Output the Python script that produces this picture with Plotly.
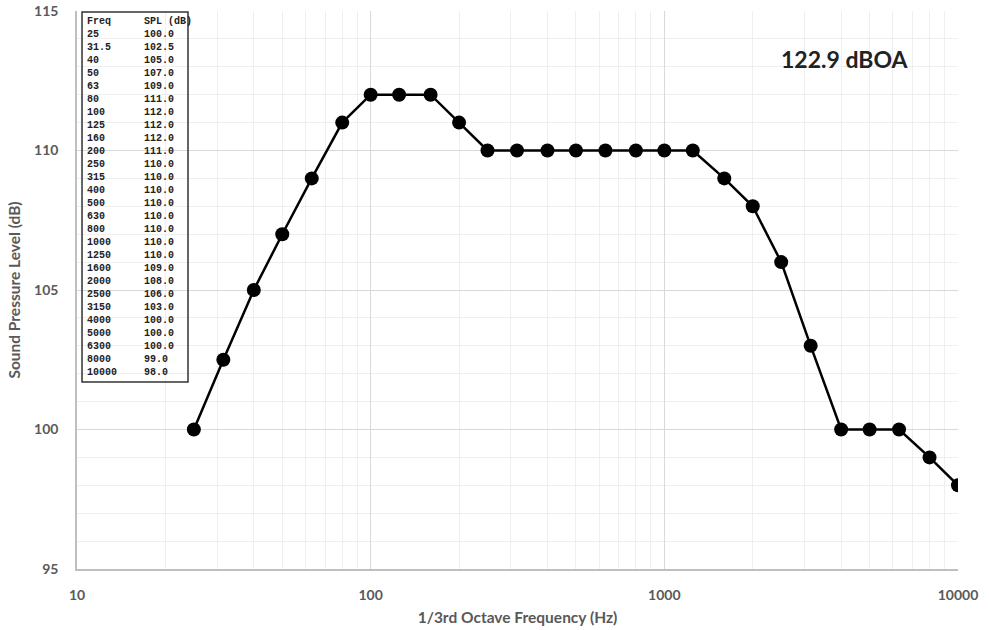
import plotly.graph_objects as go

freq = [25, 31.5, 40, 50, 63, 80, 100, 125, 160, 200, 250, 315, 400, 500, 630, 800,
        1000, 1250, 1600, 2000, 2500, 3150, 4000, 5000, 6300, 8000, 10000]
spl = [100.0, 102.5, 105.0, 107.0, 109.0, 111.0, 112.0, 112.0, 112.0, 111.0, 110.0, 110.0,
       110.0, 110.0, 110.0, 110.0, 110.0, 110.0, 109.0, 108.0, 106.0, 103.0, 100.0, 100.0,
       100.0, 99.0, 98.0]
x_ticks = [10, 100, 1000, 10000]
y_ticks = [95, 100, 105, 110, 115]
overall_label = "122.9 dBOA"

fig = go.Figure()
fig.add_trace(go.Scatter(
    x=freq, y=spl, mode="lines+markers",
    line=dict(color="black", width=2.5),
    marker=dict(color="black", size=14),
    showlegend=False, hoverinfo="x+y",
))

tick_font = dict(family="Lato, Open Sans, sans-serif", size=14, color="#595959", weight="bold")
title_font = dict(family="Lato, Open Sans, sans-serif", size=15.5, color="#595959", weight="bold")

fig.update_xaxes(
    type="log", range=[1, 4], automargin=False,
    tickvals=x_ticks, ticktext=[str(v) for v in x_ticks],
    showgrid=True, gridcolor="#d9d9d9", gridwidth=1,
    minor=dict(showgrid=True, gridcolor="#efefef", gridwidth=1,
               tickvals=[m * d for d in (10, 100, 1000) for m in range(2, 10)]),
    showline=True, linecolor="#bfbfbf", linewidth=1.5,
    ticks="", tickfont=tick_font, ticklabelstandoff=12, ticklabeloverflow="allow",
    title=dict(text="1/3rd Octave Frequency (Hz)", font=title_font, standoff=11),
    zeroline=False,
)
fig.update_yaxes(
    range=[95, 115], tickvals=y_ticks, automargin=False,
    showgrid=True, gridcolor="#d9d9d9", gridwidth=1,
    minor=dict(showgrid=True, gridcolor="#efefef", gridwidth=1, dtick=1),
    showline=True, linecolor="#bfbfbf", linewidth=1.5,
    ticks="", tickfont=tick_font, ticklabelstandoff=14, ticklabeloverflow="allow",
    title=dict(text="Sound Pressure Level (dB)", font=title_font, standoff=10),
    zeroline=False,
)

# data table box
freq_col = "<br>".join(["Freq"] + [("%g" % f) for f in freq])
spl_col = "<br>".join(["SPL (dB)"] + ["%.1f" % s for s in spl])
mono = dict(family="Liberation Mono, Courier New, monospace", size=10, color="#222222", weight="bold")
fig.add_annotation(xref="paper", yref="paper", x=0.009, y=0.995, xanchor="left", yanchor="top",
                   text=freq_col, showarrow=False, align="left", font=mono)
fig.add_annotation(xref="paper", yref="paper", x=0.0738, y=0.995, xanchor="left", yanchor="top",
                   text=spl_col, showarrow=False, align="left", font=mono)
fig.add_shape(type="rect", xref="paper", yref="paper", x0=0.0057, x1=0.126, y0=0.335, y1=0.998,
              line=dict(color="#333333", width=1.5), fillcolor="rgba(255,255,255,0)")

fig.add_annotation(xref="paper", yref="paper", x=0.872, y=0.914, xanchor="center", yanchor="middle",
                   text=overall_label, showarrow=False,
                   font=dict(family="Lato, Open Sans, sans-serif", size=23, color="#222222", weight="bold"))

fig.update_layout(
    width=989, height=630,
    margin=dict(l=77, r=31, t=11, b=61),
    paper_bgcolor="white", plot_bgcolor="white",
)
# remove the default 8px page margin so the figure fills the window exactly
fig.write_html("out.html", config={"displayModeBar": False},
               post_script="document.body.style.margin='0';document.body.style.overflow='hidden';")
